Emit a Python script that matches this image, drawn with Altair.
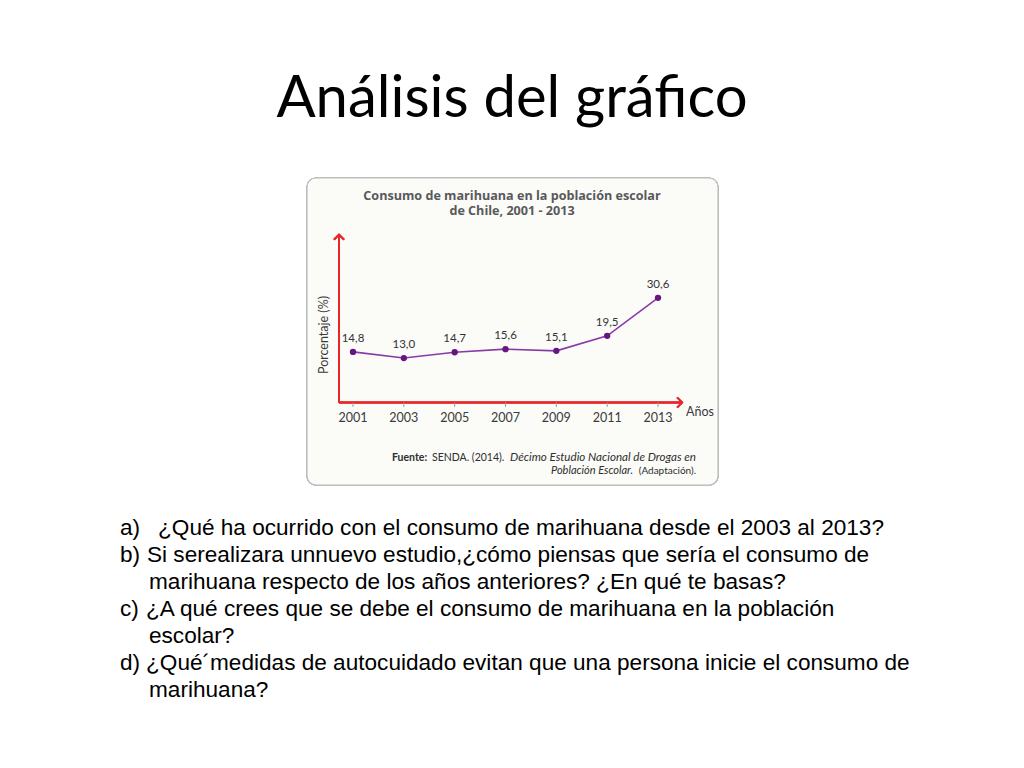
import altair as alt
import pandas as pd

# ---------------- data ----------------
years = [2001, 2003, 2005, 2007, 2009, 2011, 2013]
values = [14.8, 13.0, 14.7, 15.6, 15.1, 19.5, 30.6]
value_labels = ["14,8", "13,0", "14,7", "15,6", "15,1", "19,5", "30,6"]
tick_labels = ["2001", "2003", "2005", "2007", "2009", "2011", "2013"]

slide_title = "Análisis del gráfico"
chart_title = ["Consumo de marihuana en la población escolar", "de Chile, 2001 - 2013"]
y_title = "Porcentaje (%)"
x_title = "Años"
source_bold = "Fuente:"
source_reg1 = "SENDA. (2014)."
source_it1 = "Décimo Estudio Nacional de Drogas en"
source_it2 = "Población Escolar."
source_reg2 = "(Adaptación)."

question_marks = ["a)", "b)", "c)", "d)"]
question_lines = [
    "¿Qué ha ocurrido con el consumo de marihuana desde el 2003 al 2013?",
    "Si serealizara unnuevo estudio,¿cómo piensas que sería el consumo de",
    "marihuana respecto de los años anteriores? ¿En qué te basas?",
    "¿A qué crees que se debe el consumo de marihuana en la población",
    "escolar?",
    "¿Qué´medidas de autocuidado evitan que una persona inicie el consumo de",
    "marihuana?",
]

df = pd.DataFrame({"year": years, "value": values, "label": value_labels, "tick": tick_labels})

# ---------------- layout ----------------
W, H = 1008, 752
RED = "#e8262b"
PURPLE_LINE = "#8a3aa6"
PURPLE_PT = "#66177f"
GRAY_T = "#58595b"

xs = alt.Scale(domain=[2001, 2013], range=[345, 650], nice=False, zero=False)
ys = alt.Scale(domain=[0, 40], range=[394.5, 257.7], nice=False, zero=False)

X = alt.X("year:Q", scale=xs, axis=None)
Y = alt.Y("value:Q", scale=ys, axis=None)

base = alt.Chart(df)

frame = base.mark_rect(
    fill="#fbfbf8", stroke="#bdbdbd", strokeWidth=1.2, cornerRadius=9
).encode(x=alt.value(299), x2=alt.value(710), y=alt.value(170), y2=alt.value(477))

y_axis = base.mark_rule(color=RED, strokeWidth=1.6).encode(
    x=alt.XDatum(2000.45, scale=xs, axis=None),
    y=alt.YDatum(0, scale=ys, axis=None),
    y2=alt.Y2Datum(49.1),
)
x_axis = base.mark_rule(color=RED, strokeWidth=1.6).encode(
    x=alt.XDatum(2000.45, scale=xs, axis=None),
    x2=alt.X2Datum(2013.95),
    y=alt.YDatum(0, scale=ys, axis=None),
)
arrow_up = base.mark_point(
    shape="M-1,1L0,0L1,1", filled=False, stroke=RED, strokeWidth=1.6, size=100
).encode(x=alt.XDatum(2000.45, scale=xs, axis=None), y=alt.YDatum(49.1, scale=ys, axis=None))
arrow_right = base.mark_point(
    shape="M-1,-1L0,0L-1,1", filled=False, stroke=RED, strokeWidth=1.6, size=100
).encode(x=alt.XDatum(2013.95, scale=xs, axis=None), y=alt.YDatum(0, scale=ys, axis=None))

ticks = base.mark_rule(color="#9a9a9a", strokeWidth=1).encode(
    x=X, y=alt.YDatum(0, scale=ys, axis=None), y2=alt.Y2Datum(-1.3)
)
tick_text = base.mark_text(
    font="Lato", fontSize=12.5, color="#3a3a3a", baseline="middle", dy=15
).encode(x=X, y=alt.YDatum(0, scale=ys, axis=None), text="tick:N")

line = base.mark_line(color=PURPLE_LINE, strokeWidth=1.6).encode(x=X, y=Y)
points = base.mark_point(filled=True, color=PURPLE_PT, size=40, opacity=1).encode(x=X, y=Y)
val_text = base.mark_text(
    font="Lato", fontSize=11.5, color="#333333", baseline="middle", dy=-13
).encode(x=X, y=Y, text="label:N")

def txt(s, x, y, **kw):
    return alt.Chart(pd.DataFrame({"t": [s]})).mark_text(**kw).encode(
        x=alt.value(x), y=alt.value(y), text="t:N"
    )

layers = [frame, y_axis, x_axis, arrow_up, arrow_right, ticks, tick_text, line, points, val_text]

# inner chart texts
layers.append(txt(chart_title[0], 504, 188, font="Open Sans", fontSize=12.6, fontWeight="bold",
                  color=GRAY_T, align="center", baseline="middle"))
layers.append(txt(chart_title[1], 504, 203, font="Open Sans", fontSize=12.6, fontWeight="bold",
                  color=GRAY_T, align="center", baseline="middle"))
layers.append(txt(x_title, 692, 404, font="Lato", fontSize=12.5, color="#3a3a3a",
                  align="center", baseline="middle"))
layers.append(txt(y_title, 316, 327, font="Lato", fontSize=12.5, color="#3a3a3a",
                  align="center", baseline="middle", angle=270))
layers.append(txt(source_bold, 384, 453, font="Lato", fontSize=10.5, fontWeight="bold",
                  color="#2e2e2e", align="left", baseline="alphabetic"))
layers.append(txt(source_reg1, 424, 453, font="Lato", fontSize=10.5, color="#2e2e2e",
                  align="left", baseline="alphabetic"))
layers.append(txt(source_it1, 688, 453, font="Lato", fontSize=11.6, fontStyle="italic",
                  color="#2e2e2e", align="right", baseline="alphabetic"))
layers.append(txt(source_it2, 543, 466, font="Lato", fontSize=11.0, fontStyle="italic",
                  color="#2e2e2e", align="left", baseline="alphabetic"))
layers.append(txt(source_reg2, 688, 466, font="Lato", fontSize=10, color="#2e2e2e",
                  align="right", baseline="alphabetic"))

# slide title
layers.append(txt(slide_title, 504, 109, font="Lato", fontSize=58, color="#000000",
                  align="center", baseline="alphabetic"))

# questions
Q_FONT = dict(font="Liberation Sans", fontSize=22.6, color="#000000", align="left",
              baseline="alphabetic")
q_base = [527, 554, 581, 608, 635, 662, 689]
q_x = [150, 139, 141, 138, 141, 138, 141]
mark_rows = [0, 1, 3, 5]
for i, s in enumerate(question_lines):
    layers.append(txt(s, q_x[i], q_base[i], **Q_FONT))
for m, r in zip(question_marks, mark_rows):
    layers.append(txt(m, 112, q_base[r], **Q_FONT))

chart = alt.layer(*layers).properties(
    width=W, height=H, padding=0, autosize="none", background="white"
).configure_view(stroke=None).configure_axis(disable=True)

chart.save("out.html", embed_options={"renderer": "svg", "actions": False})
